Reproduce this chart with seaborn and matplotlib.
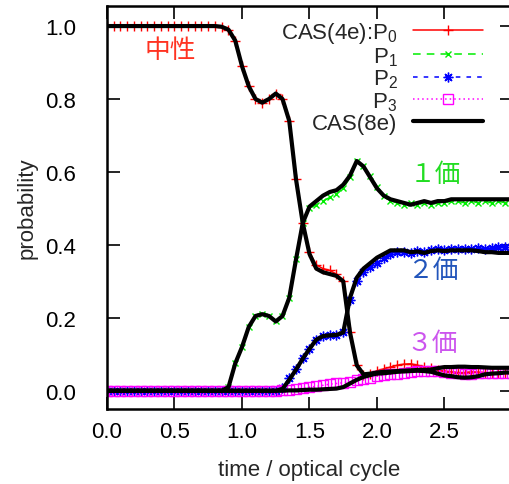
import matplotlib
matplotlib.use("Agg")
import matplotlib.pyplot as plt
import seaborn as sns
import pandas as pd

# time grid (optical cycles)
time = [0.00, 0.05, 0.10, 0.15, 0.20, 0.25, 0.30, 0.35, 0.40, 0.45,
        0.50, 0.55, 0.60, 0.65, 0.70, 0.75, 0.80, 0.85, 0.90, 0.95,
        1.00, 1.05, 1.10, 1.15, 1.20, 1.25, 1.30, 1.35, 1.40, 1.45,
        1.50, 1.55, 1.60, 1.65, 1.70, 1.75, 1.80, 1.85, 1.90, 1.95,
        2.00, 2.05, 2.10, 2.15, 2.20, 2.25, 2.30, 2.35, 2.40, 2.45,
        2.50, 2.55, 2.60, 2.65, 2.70, 2.75, 2.80, 2.85, 2.90, 2.95,
        3.00]

# CAS(4e)
p0_4e = [1.0] * 17 + [
    0.998, 0.99, 0.96, 0.89, 0.835, 0.80, 0.79, 0.80, 0.815, 0.80,
    0.74, 0.58, 0.46, 0.38, 0.345, 0.335, 0.33, 0.32, 0.30, 0.16,
    0.07, 0.042, 0.045, 0.055, 0.06, 0.065, 0.07, 0.073, 0.074, 0.07,
    0.066, 0.062, 0.057, 0.054, 0.052, 0.05, 0.05, 0.052, 0.051, 0.05,
    0.049, 0.05, 0.05, 0.05]
p1_4e = [0.0] * 18 + [
    0.01, 0.075, 0.12, 0.175, 0.205, 0.21, 0.205, 0.19, 0.205, 0.255,
    0.36, 0.46, 0.50, 0.51, 0.52, 0.53, 0.54, 0.555, 0.585, 0.63,
    0.615, 0.59, 0.56, 0.535, 0.52, 0.515, 0.51, 0.515, 0.51, 0.515,
    0.51, 0.515, 0.515, 0.52, 0.52, 0.515, 0.52, 0.515, 0.52, 0.515,
    0.52, 0.515, 0.515]
p2_4e = [0.0] * 26 + [
    0.008, 0.035, 0.06, 0.09, 0.115, 0.14, 0.15, 0.152, 0.153, 0.16,
    0.25, 0.30, 0.325, 0.34, 0.35, 0.365, 0.375, 0.38, 0.38, 0.378,
    0.382, 0.38, 0.385, 0.39, 0.385, 0.39, 0.39, 0.39, 0.39, 0.392,
    0.39, 0.392, 0.395, 0.395, 0.395]
p3_4e = [0.0] * 26 + [
    0.002, 0.003, 0.005, 0.007, 0.01, 0.012, 0.015, 0.018, 0.02, 0.022,
    0.025, 0.03, 0.033, 0.036, 0.04, 0.043, 0.045, 0.047, 0.05, 0.052,
    0.053, 0.055, 0.055, 0.054, 0.052, 0.05, 0.048, 0.047, 0.047, 0.048,
    0.05, 0.05, 0.05, 0.05, 0.05]

# CAS(8e)
p0_8e = [1.0] * 17 + [
    0.998, 0.99, 0.96, 0.89, 0.835, 0.80, 0.79, 0.80, 0.815, 0.80,
    0.74, 0.58, 0.46, 0.375, 0.335, 0.325, 0.32, 0.315, 0.30, 0.16,
    0.07, 0.045, 0.047, 0.05, 0.052, 0.053, 0.054, 0.055, 0.056, 0.057,
    0.057, 0.058, 0.062, 0.065, 0.065, 0.066, 0.066, 0.065, 0.065, 0.064,
    0.063, 0.063, 0.063, 0.063]
p1_8e = [0.0] * 18 + [
    0.01, 0.075, 0.12, 0.175, 0.205, 0.21, 0.205, 0.19, 0.205, 0.255,
    0.36, 0.46, 0.505, 0.52, 0.535, 0.545, 0.55, 0.565, 0.59, 0.63,
    0.615, 0.585, 0.555, 0.535, 0.525, 0.52, 0.515, 0.51, 0.515, 0.52,
    0.515, 0.52, 0.52, 0.525, 0.525, 0.525, 0.525, 0.525, 0.525, 0.525,
    0.525, 0.525, 0.525]
p2_8e = [0.0] * 26 + [
    0.005, 0.03, 0.058, 0.088, 0.115, 0.14, 0.15, 0.152, 0.153, 0.16,
    0.255, 0.31, 0.335, 0.35, 0.365, 0.375, 0.385, 0.385, 0.385, 0.38,
    0.382, 0.378, 0.383, 0.385, 0.383, 0.385, 0.385, 0.385, 0.385, 0.383,
    0.38, 0.38, 0.378, 0.378, 0.378]
p3_8e = [0.0] * 26 + [
    0.0, 0.001, 0.001, 0.002, 0.003, 0.003, 0.004, 0.005, 0.006, 0.01,
    0.02, 0.03, 0.038, 0.043, 0.047, 0.048, 0.05, 0.052, 0.053, 0.054,
    0.055, 0.054, 0.052, 0.047, 0.042, 0.04, 0.037, 0.036, 0.037, 0.04,
    0.045, 0.047, 0.048, 0.05, 0.05]

labels_4e = ["CAS(4e):P$_0$", "P$_1$", "P$_2$", "P$_3$"]
label_8e = "CAS(8e)"
charge_labels = ["中性", "１価", "２価", "３価"]
charge_colors = ["#ff3322", "#22dd22", "#2255bb", "#cc55ee"]

sns.set_style("ticks")
plt.rcParams["font.family"] = ["Liberation Sans", "DejaVu Sans"]
plt.rcParams["mathtext.fontset"] = "custom"
plt.rcParams["mathtext.rm"] = "Liberation Sans"
plt.rcParams["mathtext.it"] = "Liberation Sans"

fig = plt.figure(figsize=(5.10, 4.85), dpi=100)
ax = fig.add_axes([107 / 510, 75 / 485, 405 / 510, 403 / 485])

styles_4e = [
    dict(color="red", marker="+", linestyle="-", markersize=7),
    dict(color="#00ee00", marker="x", linestyle=(0, (5, 4)), markersize=5),
    dict(color="blue", marker=(8, 2, 0), linestyle=(0, (3, 4)), markersize=7),
    dict(color="magenta", marker="s", linestyle=(0, (1, 2)), markersize=7,
         markerfacecolor="none"),
]

handles = []
for vals, st in zip([p0_4e, p1_4e, p2_4e, p3_4e], styles_4e):
    df = pd.DataFrame({"t": time, "p": vals})
    sns.lineplot(data=df, x="t", y="p", ax=ax, color=st["color"],
                 linewidth=1.1, legend=False)
    line = ax.get_lines()[-1]
    line.set_linestyle(st["linestyle"])
    line.set_marker(st["marker"])
    line.set_markersize(st["markersize"])
    line.set_markeredgewidth(1.0)
    line.set_markeredgecolor(st["color"])
    line.set_markerfacecolor(st.get("markerfacecolor", st["color"]))
    line.set_zorder(2)
    handles.append(line)

for vals in [p3_8e, p2_8e, p1_8e, p0_8e]:
    df = pd.DataFrame({"t": time, "p": vals})
    sns.lineplot(data=df, x="t", y="p", ax=ax, color="black",
                 linewidth=3.0, legend=False)
    ax.get_lines()[-1].set_zorder(3)
handles.append(ax.get_lines()[-1])

ax.legend(handles, labels_4e + [label_8e], loc="upper right",
          bbox_to_anchor=(483 / 510, 1 - 21 / 485),
          bbox_transform=fig.transFigure, frameon=False, markerfirst=False,
          numpoints=1, handlelength=3.15, handletextpad=0.7,
          labelspacing=0.0, borderpad=0, borderaxespad=0, fontsize=16)

# charge state labels
label_pos = [(0.47, 0.935), (2.43, 0.595), (2.41, 0.33), (2.41, 0.13)]
for txt, col, (tx, ty) in zip(charge_labels, charge_colors, label_pos):
    ax.text(tx, ty, txt, color=col, fontsize=18.5, ha="center", va="center",
            family=["Noto Sans CJK JP", "DejaVu Sans"])

ax.set_xlim(0, 3.0)
ax.set_ylim(-0.05, 1.055)
ax.set_xticks([0.0, 0.5, 1.0, 1.5, 2.0, 2.5])
ax.set_xticklabels(["0.0", "0.5", "1.0", "1.5", "2.0", "2.5"])
ax.set_yticks([0.0, 0.2, 0.4, 0.6, 0.8, 1.0])
ax.set_yticklabels(["0.0", "0.2", "0.4", "0.6", "0.8", "1.0"])
ax.tick_params(direction="in", length=9, width=1.2, top=True, right=True,
               labelsize=16, colors="black")
ax.tick_params(axis="x", pad=9)
ax.tick_params(axis="y", pad=22)
for sp in ax.spines.values():
    sp.set_linewidth(1.8)
    sp.set_color("black")
    sp.set_visible(True)

ax.set_xlabel("time / optical cycle", fontsize=16, labelpad=12)
ax.set_ylabel("probability", fontsize=16, labelpad=6)

fig.savefig("out.png", dpi=100)
